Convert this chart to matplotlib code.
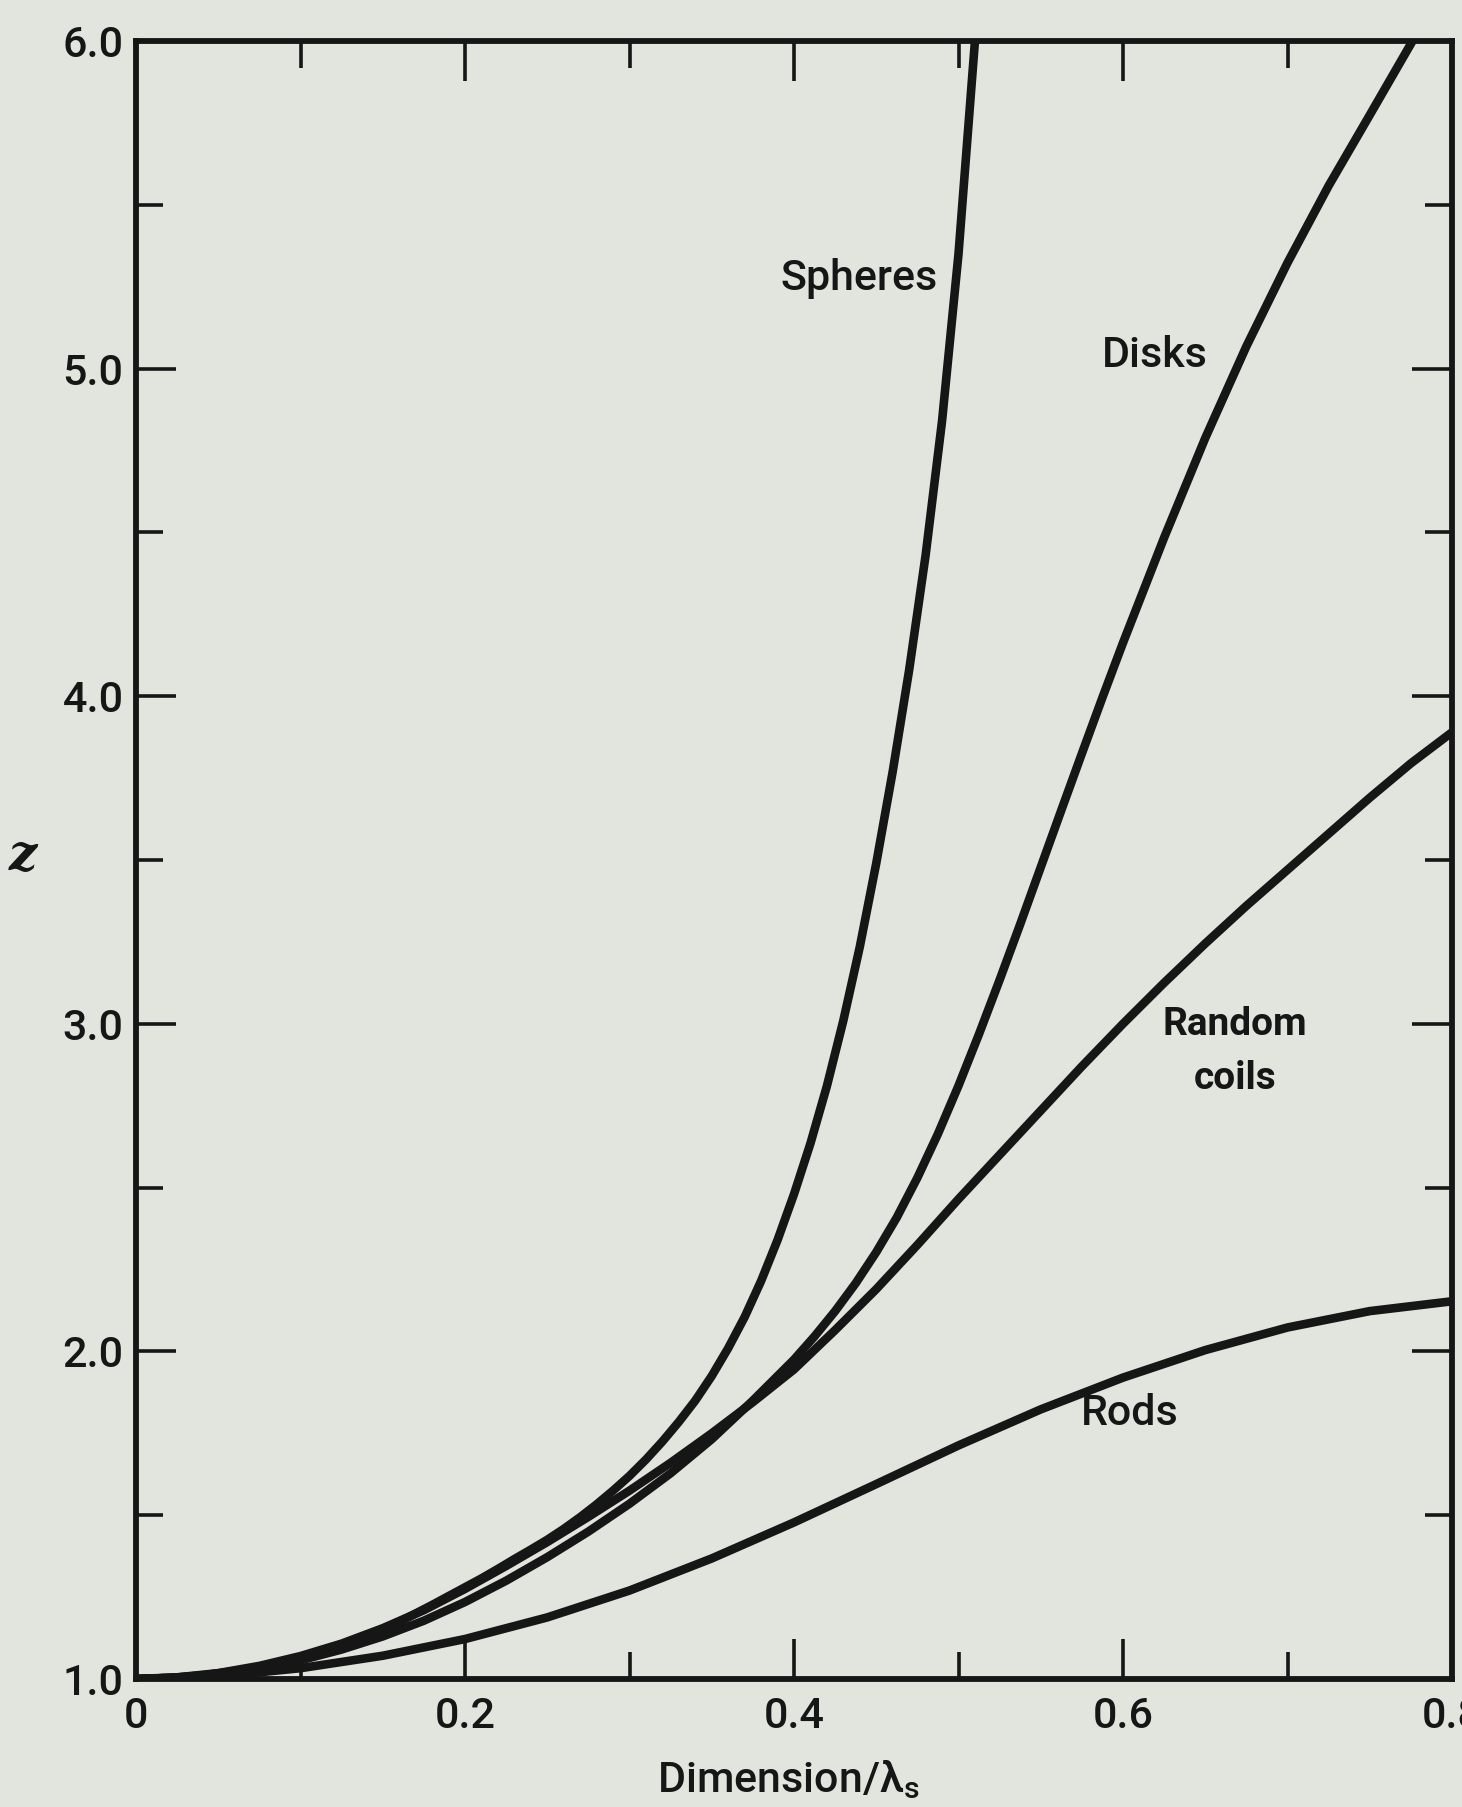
import matplotlib
matplotlib.use("Agg")
import matplotlib.pyplot as plt
from matplotlib.ticker import MultipleLocator, FixedLocator

# ---- data ----
spheres_x = [0.00, 0.02, 0.04, 0.06, 0.08, 0.10, 0.12, 0.14, 0.16, 0.18,
             0.20, 0.21, 0.22, 0.23, 0.24, 0.25, 0.26, 0.27, 0.28, 0.29,
             0.30, 0.31, 0.32, 0.33, 0.34, 0.35, 0.36, 0.37, 0.38, 0.39,
             0.40, 0.41, 0.42, 0.43, 0.44, 0.45, 0.46, 0.47, 0.48, 0.49,
             0.50, 0.51]
spheres_y = [1.000, 1.003, 1.011, 1.024, 1.042, 1.066, 1.096, 1.132, 1.174, 1.226,
             1.280, 1.307, 1.336, 1.366, 1.395, 1.425, 1.458, 1.494, 1.533, 1.575,
             1.620, 1.670, 1.725, 1.785, 1.850, 1.925, 2.010, 2.105, 2.215, 2.340,
             2.480, 2.635, 2.810, 3.010, 3.235, 3.490, 3.770, 4.080, 4.430, 4.840,
             5.350, 6.000]

disks_x = [0.000, 0.025, 0.050, 0.075, 0.100, 0.125, 0.150, 0.175, 0.200, 0.225,
           0.250, 0.275, 0.300, 0.325, 0.350, 0.375, 0.400, 0.4125, 0.425, 0.4375,
           0.450, 0.4625, 0.475, 0.4875, 0.500, 0.5125, 0.525, 0.5375, 0.550, 0.5625,
           0.575, 0.5875, 0.600, 0.625, 0.650, 0.675, 0.700, 0.725, 0.750, 0.776]
disks_y = [1.000, 1.004, 1.014, 1.032, 1.057, 1.090, 1.130, 1.178, 1.235, 1.300,
           1.372, 1.450, 1.535, 1.628, 1.732, 1.850, 1.975, 2.046, 2.123, 2.208,
           2.303, 2.409, 2.530, 2.664, 2.811, 2.969, 3.134, 3.304, 3.478, 3.652,
           3.825, 3.996, 4.163, 4.484, 4.788, 5.068, 5.323, 5.558, 5.774, 6.000]

coils_x = [0.000, 0.025, 0.050, 0.075, 0.100, 0.125, 0.150, 0.175, 0.200, 0.225,
           0.250, 0.275, 0.300, 0.325, 0.350, 0.375, 0.400, 0.425, 0.450, 0.475,
           0.500, 0.525, 0.550, 0.575, 0.600, 0.625, 0.650, 0.675, 0.700, 0.725,
           0.750, 0.775, 0.800]
coils_y = [1.000, 1.005, 1.018, 1.040, 1.070, 1.108, 1.155, 1.210, 1.275, 1.345,
           1.418, 1.495, 1.575, 1.660, 1.750, 1.845, 1.945, 2.065, 2.190, 2.325,
           2.465, 2.600, 2.735, 2.870, 3.000, 3.125, 3.245, 3.360, 3.470, 3.580,
           3.690, 3.795, 3.890]

rods_x = [0.000, 0.050, 0.100, 0.150, 0.200, 0.250, 0.300, 0.350, 0.400, 0.450,
          0.500, 0.550, 0.600, 0.650, 0.700, 0.750, 0.800]
rods_y = [1.000, 1.008, 1.033, 1.071, 1.122, 1.188, 1.270, 1.368, 1.478, 1.595,
          1.713, 1.823, 1.920, 2.004, 2.073, 2.123, 2.153]

x_ticks = [0, 0.2, 0.4, 0.6, 0.8]
x_ticklabels = ["0", "0.2", "0.4", "0.6", "0.8"]
y_ticks = [1.0, 2.0, 3.0, 4.0, 5.0, 6.0]
y_ticklabels = ["1.0", "2.0", "3.0", "4.0", "5.0", "6.0"]

# ---- style ----
paper = "#e2e5dd"
ink = "#161616"
plt.rcParams["font.family"] = ["Roboto", "DejaVu Sans"]
plt.rcParams["font.weight"] = 500
plt.rcParams["mathtext.fontset"] = "custom"
plt.rcParams["mathtext.rm"] = "Roboto"

fig = plt.figure(figsize=(14.62, 18.07), dpi=100, facecolor=paper)
ax = fig.add_axes([136 / 1462, 1 - 1679 / 1807, (1452 - 136) / 1462, (1679 - 41) / 1807])
ax.set_facecolor(paper)

lw = 6.2
for xs, ys in [(spheres_x, spheres_y), (disks_x, disks_y),
               (coils_x, coils_y), (rods_x, rods_y)]:
    ax.plot(xs, ys, color=ink, lw=lw, solid_capstyle="butt", solid_joinstyle="round")

ax.set_xlim(0, 0.8)
ax.set_ylim(1.0, 6.0)

ax.xaxis.set_major_locator(FixedLocator(x_ticks))
ax.set_xticklabels(x_ticklabels)
ax.xaxis.set_minor_locator(MultipleLocator(0.1))
ax.yaxis.set_major_locator(FixedLocator(y_ticks))
ax.set_yticklabels(y_ticklabels)
ax.yaxis.set_minor_locator(MultipleLocator(0.5))

for s in ax.spines.values():
    s.set_linewidth(4.2)
    s.set_color(ink)

ax.tick_params(which="both", direction="in", top=True, right=True,
               color=ink, width=2.6, labelcolor=ink)
ax.tick_params(which="major", length=29, labelsize=31)
ax.tick_params(which="minor", length=19.5)
ax.tick_params(axis="x", which="major", pad=12)
ax.tick_params(axis="y", which="major", pad=9)

# curve labels
lab_kw = dict(color=ink, ha="center", va="baseline")
ax.text(0.4395, 5.24, "Spheres", fontsize=31, **lab_kw)
ax.text(0.6195, 5.005, "Disks", fontsize=31, **lab_kw)
ax.text(0.668, 2.966, "Random", fontsize=28, fontweight="bold", **lab_kw)
ax.text(0.668, 2.80, "coils", fontsize=28, fontweight="bold", **lab_kw)
ax.text(0.604, 1.775, "Rods", fontsize=31, **lab_kw)

# axis labels
fig.text(23 / 1462, 1 - 856 / 1807, "z", fontsize=36, fontstyle="italic",
         fontweight="bold", family=["DejaVu Serif"], color=ink,
         ha="center", va="center")
fig.text(788 / 1462, 1 - 1792 / 1807, r"Dimension/$\mathregular{\lambda_s}$",
         fontsize=31, color=ink, ha="center", va="baseline")

fig.savefig("out.png", dpi=100, facecolor=paper)
